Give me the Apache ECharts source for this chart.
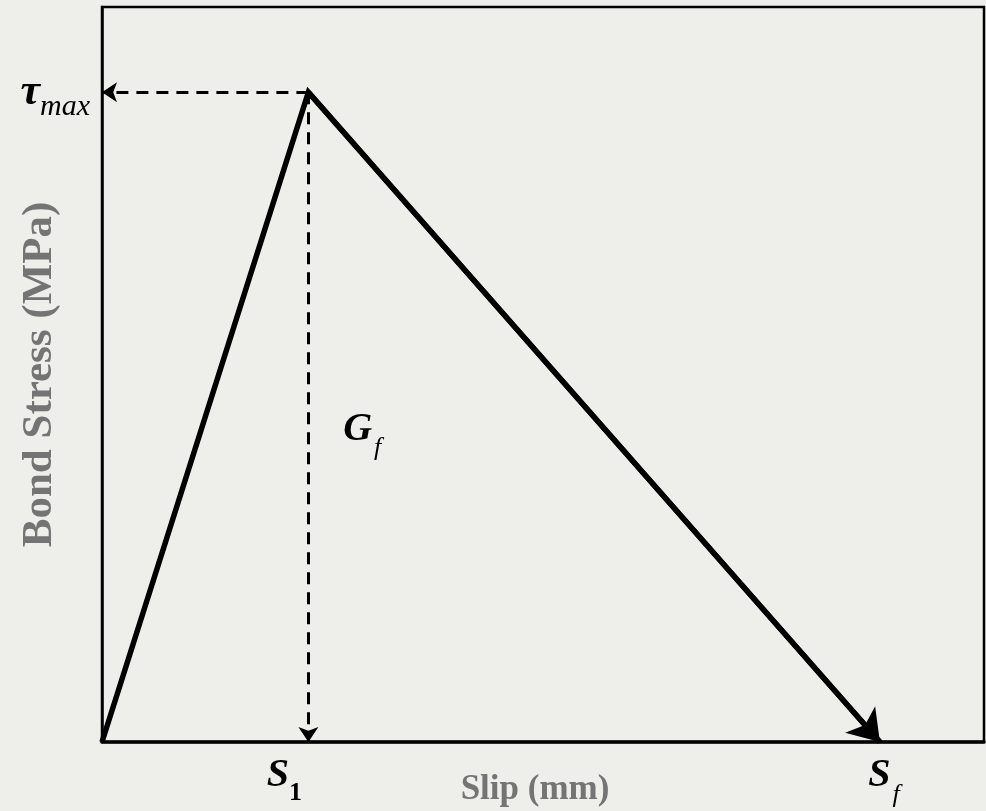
<!DOCTYPE html>
<html>
<head>
<meta charset="utf-8">
<script src="https://cdn.jsdelivr.net/npm/echarts@6/dist/echarts.min.js"></script>
<style>
  html, body { margin: 0; padding: 0; background: #eeeeea; }
  #chart { width: 986px; height: 811px; }
</style>
</head>
<body>
<div id="chart"></div>
<script>
// bond-slip law (schematic, bilinear)
const curveSlip = [0, 2.34, 8.82]
const curveStress = [0, 8.84, 0]
const slipTicks = [2.34, 8.82]       // S1, Sf
const stressTicks = [8.84]           // tau max
const gfLabelAt = [2.95, 4.25]       // where the G_f note sits

const S1 = slipTicks[0]
const SF = slipTicks[1]
const TAU = stressTicks[0]

const mathFont = 'Liberation Serif'
const titleStyle = {
  fontFamily: 'Liberation Serif',
  fontWeight: 'bold',
  fontSize: 38,
  color: '#747474',
}
const mathRich = {
  s: { fontFamily: mathFont, fontStyle: 'italic', fontWeight: 'bold', fontSize: 40, color: '#000' },
  t: { fontFamily: mathFont, fontStyle: 'italic', fontWeight: 'bold', fontSize: 44, color: '#000' },
  sub: { fontFamily: mathFont, fontWeight: 'bold', fontSize: 26, color: '#000', verticalAlign: 'bottom', padding: [0, 0, -10, 0] },
  subi: { fontFamily: mathFont, fontStyle: 'italic', fontSize: 26, color: '#000', verticalAlign: 'bottom', padding: [0, 0, -12, 2] },
  max: { fontFamily: mathFont, fontStyle: 'italic', fontSize: 30, color: '#000', verticalAlign: 'bottom', padding: [0, 0, -8, 0] },
}

const chart = echarts.init(document.getElementById('chart'))

const points = curveSlip.map((x, i) => [x, curveStress[i]])

chart.setOption({
  backgroundColor: '#eeeeea',
  animation: false,
  grid: {
    left: 102, right: 2, top: 7, bottom: 69,
    containLabel: false,
    outerBoundsMode: 'none',
    show: true, borderColor: '#000', borderWidth: 2.5,
    backgroundColor: 'transparent',
  },
  xAxis: {
    type: 'value', min: 0, max: 10,
    splitLine: { show: false },
    axisTick: { show: false },
    axisLine: { show: true, lineStyle: { color: '#000', width: 3.5 } },
    axisLabel: {
      customValues: slipTicks,
      margin: 14,
      formatter: (v) => (v === S1 ? '{s|S}{sub|1}{pad|}' : '{pad2|}{s|S}{subi|f}'),
      rich: { ...mathRich, pad: { width: 48 }, pad2: { width: 8 } },
    },
    name: 'Slip (mm)',
    nameLocation: 'middle',
    nameGap: 48,
    nameMoveOverlap: false,
    nameTextStyle: { ...titleStyle, fontSize: 35, verticalAlign: 'middle', padding: [0, 16, 0, 0] },
  },
  yAxis: {
    type: 'value', min: 0, max: 10,
    splitLine: { show: false },
    axisTick: { show: false },
    axisLine: { show: true, lineStyle: { color: '#000', width: 2.5 } },
    axisLabel: {
      customValues: stressTicks,
      margin: 12,
      formatter: () => '{t|τ}{max|max}',
      rich: mathRich,
    },
    name: 'Bond Stress (MPa)',
    nameLocation: 'middle',
    nameGap: 62,
    nameRotate: 90,
    nameMoveOverlap: false,
    nameTextStyle: { ...titleStyle, fontSize: 43, verticalAlign: 'middle' },
  },
  series: [
    {
      type: 'line',
      data: points,
      symbol: 'none',
      lineStyle: { color: '#000', width: 5.5, join: 'miter' },
      z: 5,
    },
    {
      // arrow head on the falling branch
      type: 'lines',
      coordinateSystem: 'cartesian2d',
      data: [{ coords: [points[1], points[2]] }],
      symbol: ['none', 'arrow'],
      symbolSize: 30,
      lineStyle: { color: '#000', width: 5.5, opacity: 1 },
      z: 5,
    },
    {
      type: 'lines',
      coordinateSystem: 'cartesian2d',
      data: [
        { coords: [[S1, TAU], [0, TAU]] },
        { coords: [[S1, TAU], [S1, 0]] },
      ],
      symbol: ['none', 'arrow'],
      symbolSize: 15,
      lineStyle: { color: '#000', width: 3, type: [12, 8], opacity: 1 },
      z: 4,
    },
    {
      type: 'scatter',
      data: [gfLabelAt],
      symbolSize: 0,
      silent: true,
      itemStyle: { opacity: 1 },
      label: {
        show: true,
        position: 'inside',
        formatter: '{g|G}{subi|f}',
        rich: {
          ...mathRich,
          g: { fontFamily: mathFont, fontStyle: 'italic', fontWeight: 'bold', fontSize: 40, color: '#000' },
        },
      },
    },
  ],
})
</script>
</body>
</html>
